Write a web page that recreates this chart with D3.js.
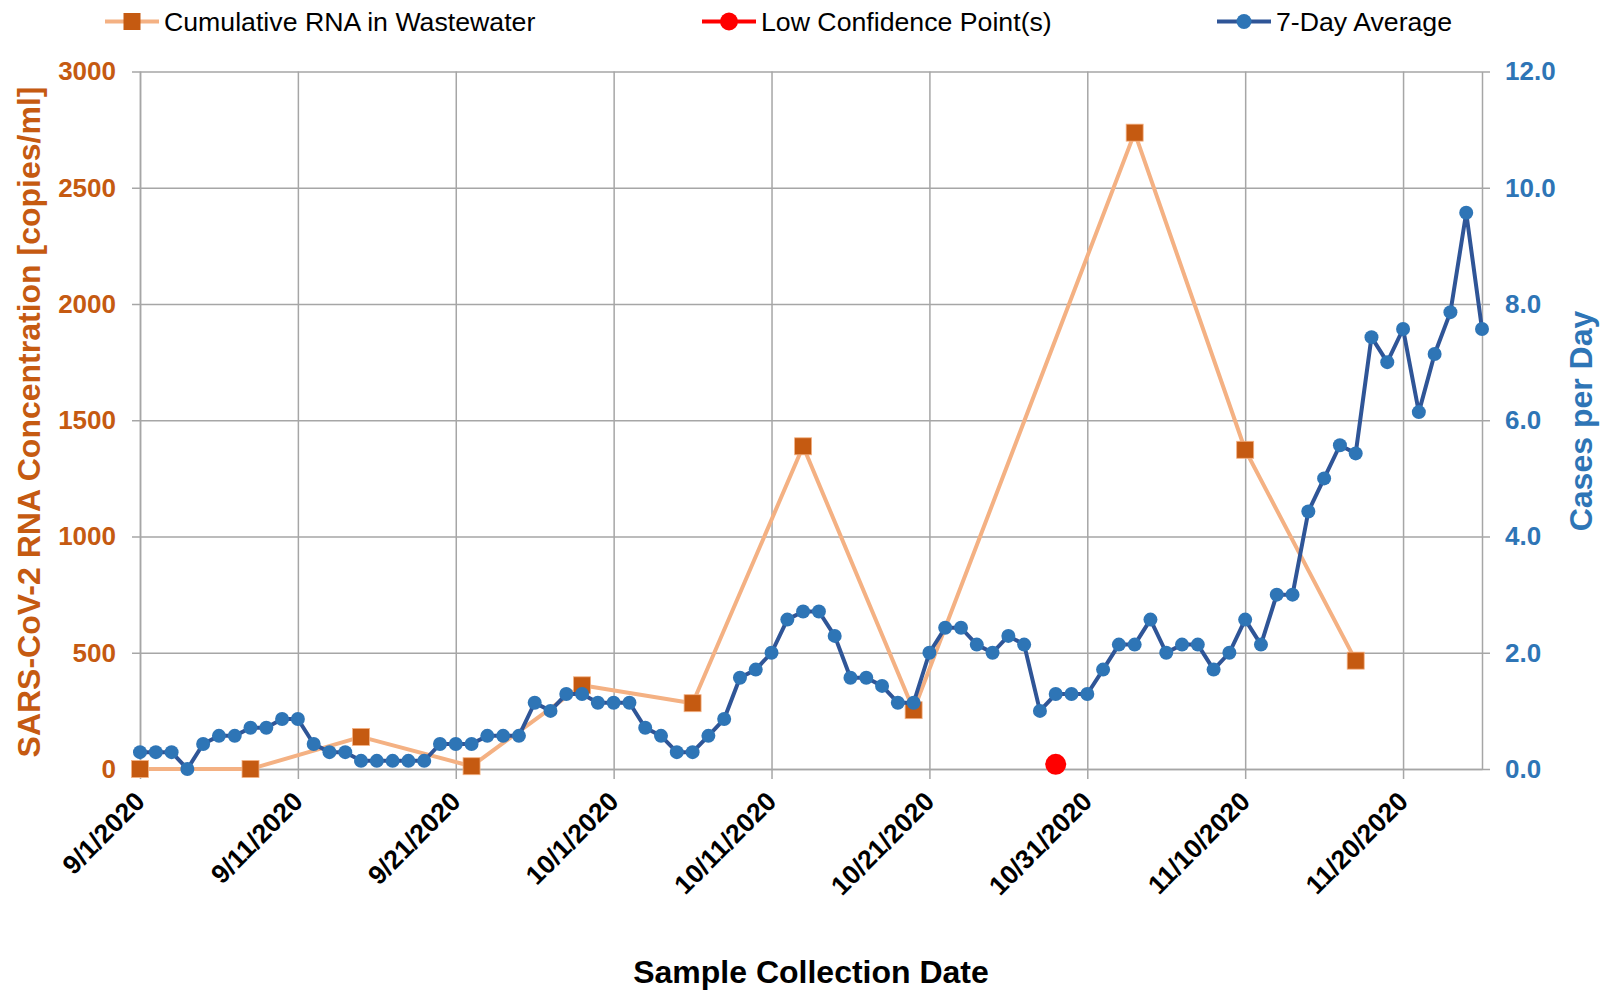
<!DOCTYPE html>
<html>
<head>
<meta charset="utf-8">
<script src="https://cdn.jsdelivr.net/npm/d3@7"></script>
<style>
  body { margin: 0; background: #fff; }
  svg text { font-family: "Liberation Sans", Arial, sans-serif; }
</style>
</head>
<body>
<svg id="chart" width="1610" height="990"></svg>
<script>
/* ==== Data ==== */
var rnaDates = ["2020-09-01", "2020-09-08", "2020-09-15", "2020-09-22", "2020-09-29", "2020-10-06",
                "2020-10-13", "2020-10-20", "2020-11-03", "2020-11-10", "2020-11-17"];
var rnaValues = [0, 0, 138, 12, 360, 283, 1388, 253, 2737, 1373, 466];

var lowConfDates = ["2020-10-29"];
var lowConfValues = [20];

// 7-day average of cases, one value per day starting 9/1
var caseStart = "2020-09-01";
var caseValues = [
  0.29, 0.29, 0.29, 0, 0.43, 0.57, 0.57, 0.71, 0.71, 0.86,
  0.86, 0.43, 0.29, 0.29, 0.14, 0.14, 0.14, 0.14, 0.14, 0.43,
  0.43, 0.43, 0.57, 0.57, 0.57, 1.14, 1.0, 1.29, 1.29, 1.14,
  1.14, 1.14, 0.71, 0.57, 0.29, 0.29, 0.57, 0.86, 1.57, 1.71,
  2.0, 2.57, 2.71, 2.71, 2.29, 1.57, 1.57, 1.43, 1.14, 1.14,
  2.0, 2.43, 2.43, 2.14, 2.0, 2.29, 2.14, 1.0, 1.29, 1.29,
  1.29, 1.71, 2.14, 2.14, 2.57, 2.0, 2.14, 2.14, 1.71, 2.0,
  2.57, 2.14, 3.0, 3.0, 4.43, 5.0, 5.57, 5.43, 7.43, 7.0,
  7.57, 6.14, 7.14, 7.86, 9.57, 7.57
];

var leftTicks = [0, 500, 1000, 1500, 2000, 2500, 3000];
var rightTicks = [0, 2, 4, 6, 8, 10, 12];
var dateTicks = ["2020-09-01", "2020-09-11", "2020-09-21", "2020-10-01", "2020-10-11",
                 "2020-10-21", "2020-10-31", "2020-11-10", "2020-11-20"];
var dateRange = ["2020-09-01", "2020-11-25"];

var legendLabels = ["Cumulative RNA in Wastewater", "Low Confidence Point(s)", "7-Day Average"];

/* ==== Utility ==== */
var parseDate = d3.timeParse("%Y-%m-%d");
function translate(x, y) { return "translate(" + x + "," + y + ")" };

var rnaData = rnaDates.map(function(d, i) { return { date: parseDate(d), value: rnaValues[i] } });
var lowConfData = lowConfDates.map(function(d, i) { return { date: parseDate(d), value: lowConfValues[i] } });
var caseData = caseValues.map(function(v, i) {
  return { date: d3.timeDay.offset(parseDate(caseStart), i), value: v }
});

/* ==== Layout ==== */
var LEFT = 140, RIGHT = 1482, TOP = 71.5, BOTTOM = 769;
var ORANGE = "#C55A11", ORANGE_LINE = "#F4B183";
var BLUE = "#2E75B6", BLUE_LINE = "#2F5597";
var RED = "#FF0000", GRID = "#A6A6A6";

var svg = d3.select("#chart");

var x = d3.scaleTime().domain(dateRange.map(parseDate)).range([LEFT, RIGHT]);
var yLeft = d3.scaleLinear().domain([0, 3000]).range([BOTTOM, TOP]);
var yRight = d3.scaleLinear().domain([0, 12]).range([BOTTOM, TOP]);

/* ==== Grid + Axes ==== */
var leftAxis = svg.append("g")
  .attr("transform", translate(LEFT, 0))
  .call(d3.axisLeft(yLeft).tickValues(leftTicks).tickSizeInner(8).tickSizeOuter(0).tickPadding(16)
    .tickFormat(d3.format("d")));
leftAxis.selectAll(".tick line").clone()
  .attr("x1", 0).attr("x2", RIGHT - LEFT);

var rightAxis = svg.append("g")
  .attr("transform", translate(RIGHT, 0))
  .call(d3.axisRight(yRight).tickValues(rightTicks).tickSizeInner(8).tickSizeOuter(0).tickPadding(15)
    .tickFormat(d3.format(".1f")));

var bottomAxis = svg.append("g")
  .attr("transform", translate(0, BOTTOM))
  .call(d3.axisBottom(x).tickValues(dateTicks.map(parseDate)).tickSizeInner(10).tickSizeOuter(0)
    .tickFormat(d3.timeFormat("%-m/%-d/%Y")));
bottomAxis.selectAll(".tick line").clone()
  .attr("y1", 0).attr("y2", TOP - BOTTOM);

[leftAxis, rightAxis, bottomAxis].forEach(function(g) {
  g.selectAll("line").attr("stroke", GRID).attr("stroke-width", 1.5);
  g.select(".domain").attr("stroke", GRID).attr("stroke-width", 1.5);
  g.selectAll("text").attr("font-family", null).attr("font-weight", "bold").attr("font-size", 26);
});

leftAxis.selectAll("text").attr("fill", ORANGE);
rightAxis.selectAll("text").attr("fill", BLUE);
bottomAxis.selectAll("text")
  .attr("fill", "#000")
  .attr("font-size", 26.5)
  .attr("text-anchor", "end")
  .attr("y", null).attr("dy", null)
  .attr("transform", "translate(6,34) rotate(-45)");

/* ==== Axis Titles ==== */
svg.append("text")
  .attr("transform", translate(39.5, 422) + " rotate(-90)")
  .attr("text-anchor", "middle")
  .attr("font-size", 32).attr("font-weight", "bold").attr("fill", ORANGE)
  .text("SARS-CoV-2 RNA Concentration [copies/ml]");

svg.append("text")
  .attr("transform", translate(1592, 421) + " rotate(-90)")
  .attr("text-anchor", "middle")
  .attr("font-size", 32).attr("font-weight", "bold").attr("fill", BLUE)
  .text("Cases per Day");

svg.append("text")
  .attr("x", (LEFT + RIGHT) / 2).attr("y", 983)
  .attr("text-anchor", "middle")
  .attr("font-size", 32).attr("font-weight", "bold").attr("fill", "#000")
  .text("Sample Collection Date");

/* ==== RNA series ==== */
var rnaLine = d3.line().x(d => x(d.date)).y(d => yLeft(d.value));
svg.append("path").datum(rnaData)
  .attr("d", rnaLine)
  .attr("fill", "none").attr("stroke", ORANGE_LINE).attr("stroke-width", 4)
  .attr("stroke-linejoin", "round");

var SQ = 17;
svg.append("g").selectAll("rect").data(rnaData).enter().append("rect")
  .attr("x", d => x(d.date) - SQ / 2).attr("y", d => yLeft(d.value) - SQ / 2)
  .attr("width", SQ).attr("height", SQ)
  .attr("fill", ORANGE).attr("stroke", ORANGE_LINE).attr("stroke-width", 0.8);

/* ==== Low confidence ==== */
svg.append("g").selectAll("circle").data(lowConfData).enter().append("circle")
  .attr("cx", d => x(d.date)).attr("cy", d => yLeft(d.value))
  .attr("r", 10.5).attr("fill", RED);

/* ==== Cases series ==== */
var caseLine = d3.line().x(d => x(d.date)).y(d => yRight(d.value));
svg.append("path").datum(caseData)
  .attr("d", caseLine)
  .attr("fill", "none").attr("stroke", BLUE_LINE).attr("stroke-width", 4)
  .attr("stroke-linejoin", "round");

svg.append("g").selectAll("circle").data(caseData).enter().append("circle")
  .attr("cx", d => x(d.date)).attr("cy", d => yRight(d.value))
  .attr("r", 7).attr("fill", BLUE);

/* ==== Legend ==== */
var legendX = [105, 702, 1217];
var LEG_Y = 21.5, LEG_LEN = 54;
var legend = svg.append("g").selectAll("g").data(legendLabels).enter().append("g")
  .attr("transform", (d, i) => translate(legendX[i], LEG_Y));

legend.append("line")
  .attr("x1", 0).attr("x2", LEG_LEN).attr("y1", 0).attr("y2", 0)
  .attr("stroke-width", 4)
  .attr("stroke", (d, i) => [ORANGE_LINE, RED, BLUE_LINE][i]);

legend.each(function(d, i) {
  var g = d3.select(this);
  if (i == 0) {
    g.append("rect").attr("x", LEG_LEN / 2 - SQ / 2).attr("y", -SQ / 2)
      .attr("width", SQ).attr("height", SQ).attr("fill", ORANGE);
  } else {
    g.append("circle").attr("cx", LEG_LEN / 2).attr("cy", 0)
      .attr("r", i == 1 ? 9 : 7.5).attr("fill", i == 1 ? RED : BLUE);
  }
});

legend.append("text")
  .attr("x", LEG_LEN + 5).attr("y", 9.5)
  .attr("font-size", 26.7).attr("fill", "#000")
  .text(d => d);
</script>
</body>
</html>
